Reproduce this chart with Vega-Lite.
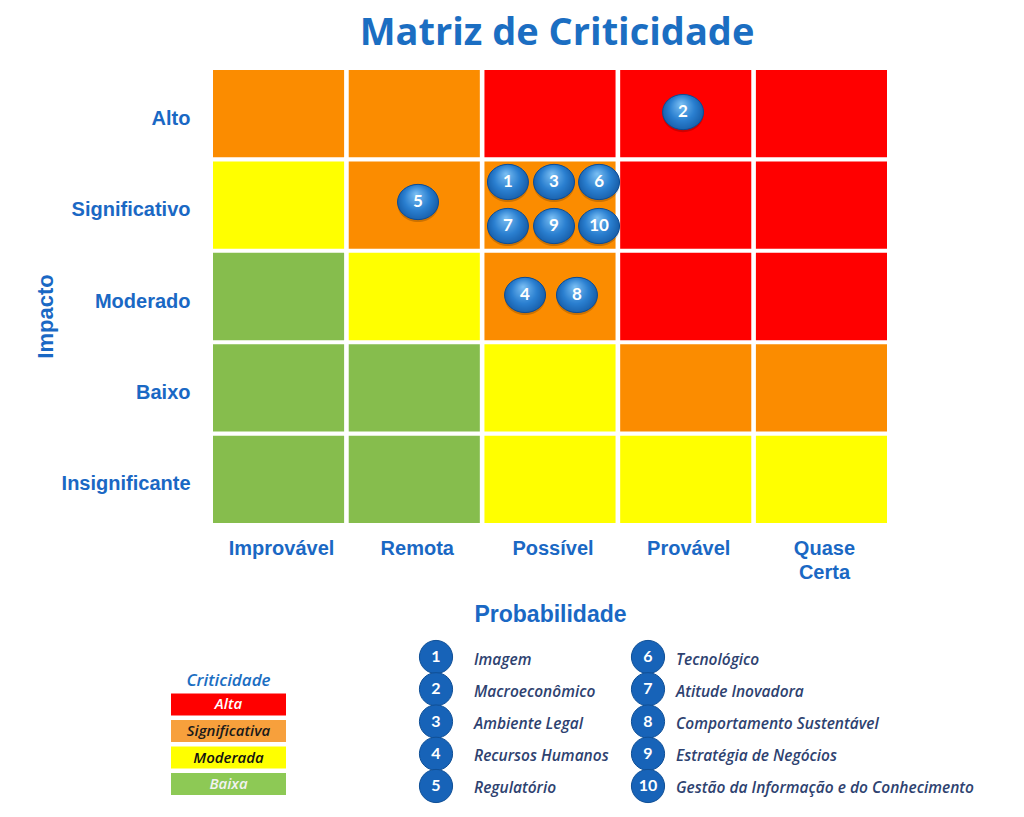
{
  "$schema": "https://vega.github.io/schema/vega-lite/v6.json",
  "width": 674,
  "height": 453,
  "autosize": {"type": "none"},
  "padding": {"left": 213, "top": 70, "right": 137, "bottom": 294},
  "background": "white",
  "config": {"view": {"stroke": null}},
  "title": {
    "text": "Matriz de Criticidade",
    "font": "Open Sans",
    "fontSize": 38,
    "fontWeight": "bold",
    "color": "#1b6ec2",
    "anchor": "middle",
    "baseline": "alphabetic",
    "offset": 25,
    "dx": 7,
    "dy": 38,
    "frame": "group"
  },
  "datasets": {
    "cells": [
      {"prob": "Improvável", "impact": "Alto", "crit": "Significativa"},
      {"prob": "Remota", "impact": "Alto", "crit": "Significativa"},
      {"prob": "Possível", "impact": "Alto", "crit": "Alta"},
      {"prob": "Provável", "impact": "Alto", "crit": "Alta"},
      {"prob": "Quase Certa", "impact": "Alto", "crit": "Alta"},
      {"prob": "Improvável", "impact": "Significativo", "crit": "Moderada"},
      {"prob": "Remota", "impact": "Significativo", "crit": "Significativa"},
      {"prob": "Possível", "impact": "Significativo", "crit": "Significativa"},
      {"prob": "Provável", "impact": "Significativo", "crit": "Alta"},
      {"prob": "Quase Certa", "impact": "Significativo", "crit": "Alta"},
      {"prob": "Improvável", "impact": "Moderado", "crit": "Baixa"},
      {"prob": "Remota", "impact": "Moderado", "crit": "Moderada"},
      {"prob": "Possível", "impact": "Moderado", "crit": "Significativa"},
      {"prob": "Provável", "impact": "Moderado", "crit": "Alta"},
      {"prob": "Quase Certa", "impact": "Moderado", "crit": "Alta"},
      {"prob": "Improvável", "impact": "Baixo", "crit": "Baixa"},
      {"prob": "Remota", "impact": "Baixo", "crit": "Baixa"},
      {"prob": "Possível", "impact": "Baixo", "crit": "Moderada"},
      {"prob": "Provável", "impact": "Baixo", "crit": "Significativa"},
      {"prob": "Quase Certa", "impact": "Baixo", "crit": "Significativa"},
      {"prob": "Improvável", "impact": "Insignificante", "crit": "Baixa"},
      {"prob": "Remota", "impact": "Insignificante", "crit": "Baixa"},
      {"prob": "Possível", "impact": "Insignificante", "crit": "Moderada"},
      {"prob": "Provável", "impact": "Insignificante", "crit": "Moderada"},
      {"prob": "Quase Certa", "impact": "Insignificante", "crit": "Moderada"}
    ],
    "risks": [
      {"n": "1", "probabilidade": 2.188, "impacto": 3.764},
      {"n": "2", "probabilidade": 3.487, "impacto": 4.536},
      {"n": "3", "probabilidade": 2.53, "impacto": 3.764},
      {"n": "4", "probabilidade": 2.315, "impacto": 2.517},
      {"n": "5", "probabilidade": 1.521, "impacto": 3.543},
      {"n": "6", "probabilidade": 2.864, "impacto": 3.764},
      {"n": "7", "probabilidade": 2.188, "impacto": 3.278},
      {"n": "8", "probabilidade": 2.7, "impacto": 2.517},
      {"n": "9", "probabilidade": 2.53, "impacto": 3.278},
      {"n": "10", "probabilidade": 2.864, "impacto": 3.278}
    ],
    "riskLegend": [
      {"n": "1", "label": "Imagem", "col": 1, "row": 1},
      {"n": "2", "label": "Macroeconômico", "col": 1, "row": 2},
      {"n": "3", "label": "Ambiente Legal", "col": 1, "row": 3},
      {"n": "4", "label": "Recursos Humanos", "col": 1, "row": 4},
      {"n": "5", "label": "Regulatório", "col": 1, "row": 5},
      {"n": "6", "label": "Tecnológico", "col": 2, "row": 1},
      {"n": "7", "label": "Atitude Inovadora", "col": 2, "row": 2},
      {"n": "8", "label": "Comportamento Sustentável", "col": 2, "row": 3},
      {"n": "9", "label": "Estratégia de Negócios", "col": 2, "row": 4},
      {"n": "10", "label": "Gestão da Informação e do Conhecimento", "col": 2, "row": 5}
    ],
    "critLegend": [
      {"group": "Criticidade", "label": "Criticidade"},
      {"group": "Criticidade", "label": "Alta"},
      {"group": "Criticidade", "label": "Significativa"},
      {"group": "Criticidade", "label": "Moderada"},
      {"group": "Criticidade", "label": "Baixa"}
    ]
  },
  "layer": [
    {
      "data": {"name": "cells"},
      "mark": {"type": "rect"},
      "encoding": {
        "x": {
          "field": "prob",
          "type": "nominal",
          "sort": ["Improvável", "Remota", "Possível", "Provável", "Quase Certa"],
          "scale": {"paddingInner": 0.034, "paddingOuter": 0},
          "axis": {
            "orient": "bottom",
            "title": "Probabilidade",
            "domain": false,
            "ticks": false,
            "grid": false,
            "labelAngle": 0,
            "labelFont": "Liberation Sans",
            "labelFontSize": 20,
            "labelFontWeight": "bold",
            "labelColor": "#1a68c4",
            "labelPadding": 15,
            "labelLineHeight": 24,
            "labelOffset": 3,
            "labelExpr": "datum.value == 'Quase Certa' ? ['Quase', 'Certa'] : datum.label",
            "titleFont": "Liberation Sans",
            "titleFontSize": 23,
            "titleFontWeight": "bold",
            "titleColor": "#1a68c4",
            "titlePadding": 21
          }
        },
        "y": {
          "field": "impact",
          "type": "nominal",
          "sort": ["Alto", "Significativo", "Moderado", "Baixo", "Insignificante"],
          "scale": {"paddingInner": 0.045, "paddingOuter": 0},
          "axis": {
            "orient": "left",
            "title": "Impacto",
            "domain": false,
            "ticks": false,
            "grid": false,
            "labelFont": "Liberation Sans",
            "labelFontSize": 20,
            "labelFontWeight": "bold",
            "labelColor": "#1a68c4",
            "labelPadding": 23,
            "labelOffset": 5,
            "labelExpr": "datum.value == 'Moderado' ? 'Moderado\u00a0\u00a0' : datum.label",
            "titleFont": "Liberation Sans",
            "titleFontSize": 22,
            "titleFontWeight": "bold",
            "titleColor": "#1a68c4",
            "titleAngle": -90,
            "titleX": -168,
            "titleY": 246,
            "titleAlign": "center",
            "titleBaseline": "middle"
          }
        },
        "color": {
          "field": "crit",
          "type": "nominal",
          "scale": {
            "domain": ["Alta", "Significativa", "Moderada", "Baixa"],
            "range": ["#ff0000", "#fb8c00", "#ffff00", "#86bd4d"]
          },
          "legend": null
        }
      }
    },
    {
      "data": {"name": "risks"},
      "encoding": {
        "x": {"field": "probabilidade", "type": "quantitative", "scale": {"domain": [0, 5], "nice": false, "zero": false}, "axis": null},
        "y": {"field": "impacto", "type": "quantitative", "scale": {"domain": [0, 5], "nice": false, "zero": false}, "axis": null}
      },
      "layer": [
        {
          "mark": {
            "type": "point",
            "shape": "M -1 0.12 A 1 0.86 0 1 1 1 0.12 A 1 0.86 0 1 1 -1 0.12 Z",
            "size": 1681,
            "filled": true,
            "fill": "#000000",
            "opacity": 0.18,
            "strokeWidth": 0
          }
        },
        {
          "mark": {
            "type": "point",
            "shape": "M -1 0 A 1 0.86 0 1 1 1 0 A 1 0.86 0 1 1 -1 0 Z",
            "size": 1681,
            "filled": true,
            "opacity": 1,
            "fill": {
              "gradient": "radial",
              "x1": 0.45, "y1": 0.3, "r1": 0,
              "x2": 0.5, "y2": 0.5, "r2": 0.62,
              "stops": [
                {"offset": 0, "color": "#7cc0f4"},
                {"offset": 0.5, "color": "#2a7fd0"},
                {"offset": 1, "color": "#0d4c94"}
              ]
            },
            "stroke": "#0d4c94",
            "strokeWidth": 1
          }
        },
        {
          "mark": {
            "type": "text",
            "font": "Lato",
            "fontSize": 17,
            "fontWeight": "bold",
            "color": "white",
            "align": "center",
            "baseline": "middle"
          },
          "encoding": {"text": {"field": "n"}}
        }
      ]
    },
    {
      "data": {"name": "riskLegend"},
      "encoding": {
        "x": {"field": "col", "type": "quantitative", "scale": {"domain": [1, 2], "range": [223, 435], "nice": false, "zero": false}, "axis": null},
        "y": {"field": "row", "type": "quantitative", "scale": {"domain": [1, 5], "range": [587, 716], "nice": false, "zero": false}, "axis": null}
      },
      "layer": [
        {
          "mark": {"type": "point", "shape": "circle", "size": 1100, "filled": true, "opacity": 1, "color": "#1763b8", "stroke": "#0f4f96", "strokeWidth": 1}
        },
        {
          "mark": {"type": "text", "font": "Lato", "fontSize": 16, "fontWeight": "bold", "color": "white", "align": "center", "baseline": "middle"},
          "encoding": {"text": {"field": "n"}}
        }
      ]
    },
    {
      "data": {"name": "riskLegend"},
      "mark": {"type": "text", "font": "Open Sans", "fontSize": 15.5, "fontStyle": "italic", "fontWeight": 600, "color": "#2e4270", "align": "left", "baseline": "middle"},
      "encoding": {
        "x": {"field": "col", "type": "quantitative", "scale": {"domain": [1, 2], "range": [261, 463], "nice": false, "zero": false}, "axis": null},
        "y": {"field": "row", "type": "quantitative", "scale": {"domain": [1, 5], "range": [590, 718], "nice": false, "zero": false}, "axis": null},
        "text": {"field": "label"}
      }
    },
    {
      "data": {"name": "critLegend"},
      "encoding": {
        "x": {"field": "group", "type": "nominal", "scale": {"range": [-42, 73], "paddingInner": 0, "paddingOuter": 0}, "axis": null},
        "y": {
          "field": "label",
          "type": "nominal",
          "scale": {
            "domain": ["Criticidade", "Alta", "Significativa", "Moderada", "Baixa"],
            "range": [597, 725],
            "paddingInner": 0.175,
            "paddingOuter": 0
          },
          "axis": null
        }
      },
      "layer": [
        {
          "transform": [{"filter": "datum.label != 'Criticidade'"}],
          "mark": {"type": "rect"},
          "encoding": {
            "fill": {
              "field": "label",
              "type": "nominal",
              "scale": {
                "domain": ["Alta", "Significativa", "Moderada", "Baixa"],
                "range": ["#ff0000", "#f7a03c", "#ffff00", "#8dc955"]
              },
              "legend": null
            }
          }
        },
        {
          "transform": [{"filter": "datum.label == 'Criticidade'"}],
          "mark": {"type": "text", "font": "Open Sans", "fontSize": 17, "fontStyle": "italic", "fontWeight": 600, "color": "#1b6ec2", "align": "center", "baseline": "middle", "dy": 3},
          "encoding": {"text": {"field": "label"}}
        },
        {
          "transform": [{"filter": "datum.label != 'Criticidade'"}],
          "mark": {"type": "text", "font": "Open Sans", "fontSize": 15, "fontStyle": "italic", "fontWeight": 600, "align": "center", "baseline": "middle"},
          "encoding": {
            "text": {"field": "label"},
            "color": {
              "field": "label",
              "type": "nominal",
              "scale": {
                "domain": ["Alta", "Significativa", "Moderada", "Baixa"],
                "range": ["#ffffff", "#1a1a1a", "#111111", "#f2f2f2"]
              },
              "legend": null
            }
          }
        }
      ]
    }
  ],
  "resolve": {"scale": {"x": "independent", "y": "independent", "color": "independent", "fill": "independent"}}
}
